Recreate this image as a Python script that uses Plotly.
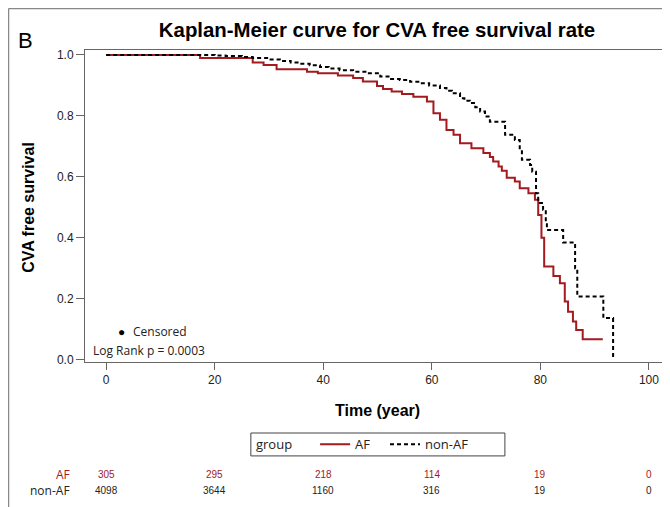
import plotly.graph_objects as go

# ---- data ----
af_time = [0, 17.3, 27, 29, 31.4, 37, 39, 42.7, 45.5, 47.3, 49.9, 51, 52.6, 54.5, 56.6,
           59.1, 60.3, 61.5, 62.7, 64, 65.2, 67.3, 69.5, 70.7, 71.3, 72.3, 72.9, 73.8,
           75.3, 76.2, 77.8, 79, 79.6, 80.2, 80.7, 82.4, 83.6, 84.5, 85.1, 86.0, 86.6,
           87.8, 91.5]
af_surv = [1.0, 0.99, 0.975, 0.967, 0.953, 0.945, 0.94, 0.932, 0.924, 0.913, 0.898, 0.888,
           0.88, 0.872, 0.863, 0.847, 0.809, 0.787, 0.754, 0.738, 0.71, 0.694, 0.678, 0.665,
           0.65, 0.634, 0.62, 0.597, 0.585, 0.563, 0.546, 0.525, 0.475, 0.40, 0.306, 0.275,
           0.251, 0.191, 0.158, 0.126, 0.098, 0.068, 0.068]

nonaf_time = [0, 20, 22, 25, 27, 30, 32, 34, 35.7, 37.5, 39.4, 41, 43, 45.5, 48, 50.5, 52.3,
              54.1, 56, 57.8, 59.5, 61.5, 62.7, 63.7, 65.2, 66, 67, 68, 68.9, 69.8, 70.7,
              73.5, 75.3, 76.2, 76.6, 78.1, 78.5, 79.2, 79.6, 80.5, 81.0, 81.2, 84.2, 86.4,
              86.8, 91.6, 93.4]
nonaf_surv = [1.0, 0.998, 0.996, 0.993, 0.99, 0.985, 0.98, 0.975, 0.971, 0.966, 0.96, 0.955,
              0.95, 0.945, 0.94, 0.929, 0.921, 0.918, 0.912, 0.907, 0.9, 0.891, 0.882, 0.874,
              0.858, 0.85, 0.842, 0.828, 0.814, 0.798, 0.781, 0.738, 0.721, 0.689, 0.656,
              0.639, 0.617, 0.546, 0.514, 0.492, 0.453, 0.426, 0.385, 0.30, 0.208, 0.137, 0.0]

x_ticks = [0, 20, 40, 60, 80, 100]
y_ticks = [0.0, 0.2, 0.4, 0.6, 0.8, 1.0]
y_tick_labels = ["0.0", "0.2", "0.4", "0.6", "0.8", "1.0"]
risk_af = [305, 295, 218, 114, 19, 0]
risk_nonaf = [4098, 3644, 1160, 316, 19, 0]

RED = "#a31a1f"
AXC = "#666666"
TXT = "#222222"

fig = go.Figure()
fig.add_trace(go.Scatter(x=af_time, y=af_surv, mode="lines", name="AF", legend="legend",
                         line=dict(color=RED, width=2, shape="hv")))
fig.add_trace(go.Scatter(x=nonaf_time, y=nonaf_surv, mode="lines", name="non-AF",
                         legend="legend2",
                         line=dict(color="black", width=2, shape="hv", dash="4px,3px")))

ann = []
# axis titles
ann.append(dict(text="<b>Time (year)</b>", x=0.5, y=-0.154, xref="paper", yref="paper",
                showarrow=False, font=dict(size=16, family="Liberation Sans", color="black"),
                xanchor="center", yanchor="middle"))
ann.append(dict(text="<b>CVA free survival</b>", x=-0.096, y=0.497, xref="paper", yref="paper",
                showarrow=False, textangle=-90,
                font=dict(size=16, family="Liberation Sans", color="black"),
                xanchor="center", yanchor="middle"))
# panel letter
ann.append(dict(text="B", x=-0.1027, y=1.029, xref="paper", yref="paper", showarrow=False,
                font=dict(size=22, family="Liberation Sans", color="black"),
                xanchor="center", yanchor="middle"))
# censored legend & log rank
ann.append(dict(text="●", x=0.063, y=0.099, xref="paper", yref="paper", showarrow=False,
                font=dict(size=12, color="black"), xanchor="center", yanchor="middle"))
ann.append(dict(text="Censored", x=0.078, y=0.099, xref="paper", yref="paper", showarrow=False,
                font=dict(size=12, family="Open Sans", color=TXT), xanchor="left", yanchor="middle"))
ann.append(dict(text="Log Rank p = 0.0003", x=0.010, y=0.038, xref="paper", yref="paper",
                showarrow=False, font=dict(size=12, family="Open Sans", color=TXT),
                xanchor="left", yanchor="middle"))
# legend title
ann.append(dict(text="group", x=0.289, y=-0.264, xref="paper", yref="paper", showarrow=False,
                font=dict(size=13, family="Open Sans", color=TXT), xanchor="left", yanchor="middle"))
# risk table
ann.append(dict(text="AF", x=-0.022, y=-0.359, xref="paper", yref="paper", showarrow=False,
                font=dict(size=12, family="Open Sans", color=RED), xanchor="right", yanchor="middle"))
ann.append(dict(text="non-AF", x=-0.022, y=-0.413, xref="paper", yref="paper", showarrow=False,
                font=dict(size=12, family="Open Sans", color=TXT), xanchor="right", yanchor="middle"))
for t, a, n in zip(x_ticks, risk_af, risk_nonaf):
    ann.append(dict(text=str(a), x=t, y=-0.359, xref="x", yref="paper", showarrow=False,
                    font=dict(size=10, family="Liberation Sans Narrow, Liberation Sans", color=RED),
                    xanchor="center", yanchor="middle"))
    ann.append(dict(text=str(n), x=t, y=-0.413, xref="x", yref="paper", showarrow=False,
                    font=dict(size=10, family="Liberation Sans Narrow, Liberation Sans", color=TXT),
                    xanchor="center", yanchor="middle"))

shapes = [
    # outer frame of the figure image
    dict(type="line", xref="paper", yref="paper", x0=-0.131, x1=-0.131, y0=1.133, y1=-0.47,
         line=dict(color="#888888", width=1.5)),
    dict(type="line", xref="paper", yref="paper", x0=-0.131, x1=1.01, y0=1.133, y1=1.133,
         line=dict(color="#888888", width=1.5)),
    # legend box
    dict(type="rect", xref="paper", yref="paper", x0=0.284, x1=0.719, y0=-0.2276, y1=-0.301,
         line=dict(color="#444444", width=1), fillcolor="rgba(0,0,0,0)"),
]

leg_common = dict(orientation="h", xanchor="left", y=-0.264, yanchor="middle",
                  font=dict(size=13, family="Open Sans", color=TXT),
                  borderwidth=0, bgcolor="rgba(0,0,0,0)", itemwidth=30)

# page has an 8px body margin: figure sized/offset to compensate
fig.update_layout(
    width=662, height=499,
    margin=dict(l=77, r=1, t=42, b=145),
    paper_bgcolor="white", plot_bgcolor="white",
    title=dict(text="<b>Kaplan-Meier curve for CVA free survival rate</b>", x=0.5, xref="paper",
               xanchor="center", y=1 - 22 / 499, yanchor="middle", yref="container",
               font=dict(size=20.4, family="Liberation Sans", color="black")),
    showlegend=True,
    legend=dict(x=0.394, **leg_common),
    legend2=dict(x=0.5137, **leg_common),
    annotations=ann,
    shapes=shapes,
)
fig.update_xaxes(range=[-3.9, 103.7], tickvals=x_ticks, ticks="outside", ticklen=7,
                 tickcolor=AXC, showline=True, linecolor=AXC, linewidth=1, mirror=True,
                 showgrid=False, zeroline=False,
                 tickfont=dict(size=12, family="Liberation Sans Narrow, Liberation Sans", color=TXT))
fig.update_yaxes(range=[-0.007, 1.016], tickvals=y_ticks, ticktext=y_tick_labels,
                 ticks="outside", ticklen=8, tickcolor=AXC, showline=True, linecolor=AXC,
                 linewidth=1, mirror=True, showgrid=False, zeroline=False,
                 tickfont=dict(size=12, family="Liberation Sans Narrow, Liberation Sans", color=TXT))

fig.write_html("out.html")
